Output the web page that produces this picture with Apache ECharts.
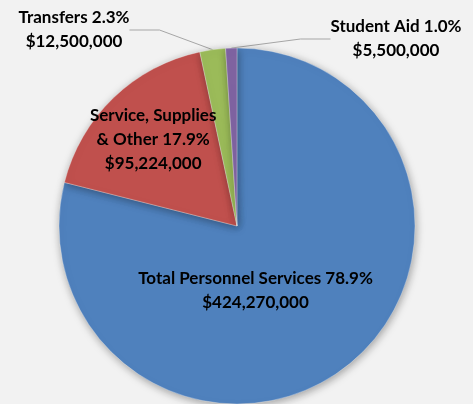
<!DOCTYPE html>
<html>
<head>
<meta charset="utf-8">
<script src="https://cdn.jsdelivr.net/npm/echarts@6/dist/echarts.min.js"></script>
<style>
  html, body { margin: 0; padding: 0; background: #f2f2f2; }
  #main { width: 473px; height: 404px; }
</style>
</head>
<body>
<div id="main"></div>
<script>
const names = ['Total Personnel Services', 'Service, Supplies\n& Other', 'Transfers', 'Student Aid']
const amounts = [424270000, 95224000, 12500000, 5500000]
const shares = ['78.9%', '17.9%', '2.3%', '1.0%']
const colors = ['#4f81bd', '#c0504d', '#9bbb59', '#8064a2']

const chart = echarts.init(document.getElementById('main'))

function money(v) {
  return '$' + v.toLocaleString('en-US')
}

chart.setOption({
  backgroundColor: '#f2f2f2',
  animation: false,
  series: [{
    type: 'pie',
    center: [237, 226],
    radius: 178,
    startAngle: 90,
    clockwise: true,
    data: names.map((n, i) => ({
      name: n,
      value: amounts[i],
      itemStyle: { color: colors[i] },
      label: { position: i < 2 ? 'inside' : 'outside' }
    })),
    itemStyle: {
      borderColor: 'rgba(255,255,255,0.6)',
      borderWidth: 0.5,
      shadowBlur: 8,
      shadowColor: 'rgba(0,0,0,0.35)',
      shadowOffsetX: 1,
      shadowOffsetY: 2
    },
    label: {
      formatter: p => p.name + ' ' + shares[p.dataIndex] + '\n' + money(p.value),
      color: '#000',
      fontFamily: 'Lato',
      fontWeight: 'bold',
      fontSize: 17,
      lineHeight: 24,
      align: 'center',
      overflow: 'none'
    },
    labelLine: {
      show: true,
      lineStyle: { color: '#a6a6a6', width: 1 }
    },
    labelLayout: function (p) {
      // 把标签挪到原图的位置
      if (p.dataIndex === 0) return { dx: -38, dy: -8 }
      if (p.dataIndex === 1) return { dx: -20, dy: -20 }
      if (p.dataIndex === 2) return { x: 74, y: 30, align: 'center', verticalAlign: 'middle' }
      return { x: 396, y: 39, align: 'center', verticalAlign: 'middle' }
    }
  }]
})
</script>
</body>
</html>
